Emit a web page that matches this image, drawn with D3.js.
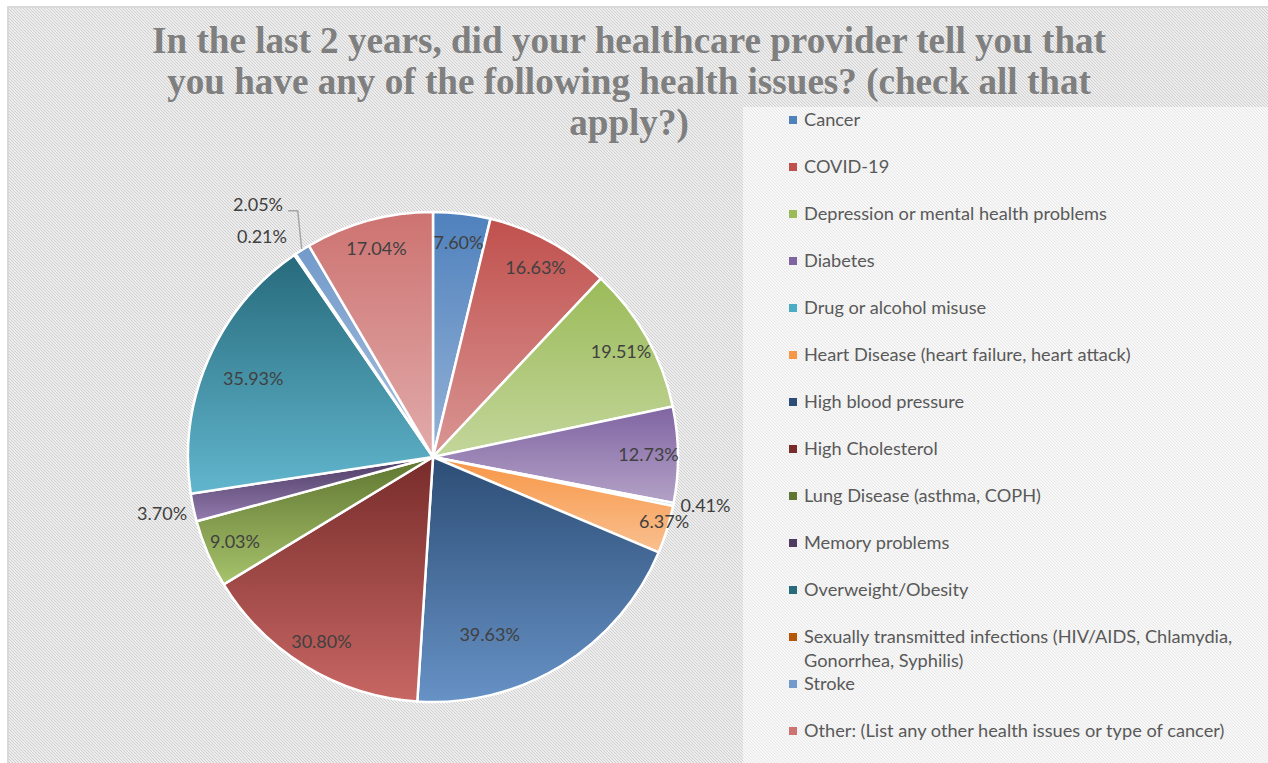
<!DOCTYPE html>
<html>
<head>
<meta charset="utf-8">
<script src="https://cdn.jsdelivr.net/npm/d3@7"></script>
<style>
  body { margin: 0; background: #fff; }
  svg { display: block; }
</style>
</head>
<body>
<script>
const categories = [
  "Cancer",
  "COVID-19",
  "Depression or mental health problems",
  "Diabetes",
  "Drug or alcohol misuse",
  "Heart Disease (heart failure, heart attack)",
  "High blood pressure",
  "High Cholesterol",
  "Lung Disease (asthma, COPH)",
  "Memory problems",
  "Overweight/Obesity",
  "Sexually transmitted infections (HIV/AIDS, Chlamydia, Gonorrhea, Syphilis)",
  "Stroke",
  "Other: (List any other health issues or type of cancer)"
];
const values = [7.60, 16.63, 19.51, 12.73, 0.41, 6.37, 39.63, 30.80, 9.03, 3.70, 35.93, 0.21, 2.05, 17.04];
const colors = ["#4F81BD", "#C0504D", "#9BBB59", "#8064A2", "#4BACC6", "#F79646",
  "#2C4D75", "#772C2A", "#5F7530", "#4D3B62", "#276A7C", "#B65708", "#729ACA", "#CD7371"];
const titleLines = [
  "In the last 2 years, did your healthcare provider tell you that",
  "you have any of the following health issues? (check all that",
  "apply?)"
];

const width = 1268, height = 763;
const svg = d3.select("body").append("svg").attr("width", width).attr("height", height);
const defs = svg.append("defs");

// diagonal hatch background
const hatch = defs.append("pattern").attr("id", "hatch")
  .attr("patternUnits", "userSpaceOnUse").attr("width", 3).attr("height", 3);
hatch.append("rect").attr("width", 3).attr("height", 3).attr("fill", "#fbfbfb");
hatch.append("path").attr("d", "M-1,-1L4,4M-1,2L1,4M2,-1L4,1")
  .attr("stroke", "#cdcdcd").attr("stroke-width", 1.1);

svg.append("rect").attr("x", 8).attr("y", 7).attr("width", 1300).attr("height", 800)
  .attr("fill", "url(#hatch)").attr("stroke", "#d9d9d9").attr("stroke-width", 2);

// legend panel
svg.append("rect").attr("x", 743).attr("y", 107).attr("width", 600).attr("height", 700)
  .attr("fill", "#fff").attr("fill-opacity", 0.55);

// pie
const cx = 433, cy = 457, R = 245;
const data = categories.map((c, i) => ({ name: c, value: values[i], color: colors[i] }));
const pie = d3.pie().sort(null).value(d => d.value);
const arcs = pie(data);
const arc = d3.arc().innerRadius(0).outerRadius(R);

arcs.forEach((a, i) => {
  const base = d3.hsl(a.data.color);
  const light = d3.hsl(base.h, base.s, base.l + (1 - base.l) * 0.4);
  const grad = defs.append("linearGradient").attr("id", "grad" + i)
    .attr("x1", 0).attr("y1", 0).attr("x2", 0).attr("y2", 1);
  grad.append("stop").attr("offset", "0%").attr("stop-color", base.formatHex());
  grad.append("stop").attr("offset", "100%").attr("stop-color", light.formatHex());
});

const g = svg.append("g").attr("transform", `translate(${cx},${cy})`);
g.selectAll("path.slice")
  .data(arcs)
  .join("path")
  .attr("class", "slice")
  .attr("d", arc)
  .attr("fill", (d, i) => `url(#grad${i})`)
  .attr("stroke", "#fff")
  .attr("stroke-width", 2.5);

// data labels (Excel best fit placement)
const labelLayout = {
  "Heart Disease (heart failure, heart attack)": { r: 0.98, da: -1.5 },
  "High blood pressure": { r: 0.76, da: 14 },
  "Overweight/Obesity": { r: 0.80 },
  "Drug or alcohol misuse": { r: 1.13, da: -1 },
  "Memory problems": { r: 1.13 },
  "Sexually transmitted infections (HIV/AIDS, Chlamydia, Gonorrhea, Syphilis)": { r: 1.14, da: -3.5 },
  "Stroke": { r: 1.253, da: -2.5, leader: true }
};
const fmt = d => d.toFixed(2) + "%";

arcs.forEach(a => {
  const lay = labelLayout[a.data.name] || { r: 0.88 };
  const mid = (a.startAngle + a.endAngle) / 2;
  const ang = mid + (lay.da || 0) * Math.PI / 180;
  const [x, y] = d3.pointRadial(ang, R * lay.r);
  const t = g.append("text")
    .attr("x", x).attr("y", y).attr("dy", "0.35em")
    .attr("text-anchor", "middle")
    .attr("font-family", "Lato, 'Open Sans', sans-serif")
    .attr("font-size", 18)
    .attr("fill", "#404040")
    .text(fmt(a.data.value));
  if (lay.leader) {
    const bb = t.node().getBBox();
    const [ex, ey] = d3.pointRadial(mid, R + 1);
    const ly = y + 6;
    g.append("polyline")
      .attr("points", [[bb.x + bb.width + 5, ly], [ex - 4, ly], [ex, ey]].map(p => p.join(",")).join(" "))
      .attr("fill", "none").attr("stroke", "#a6a6a6").attr("stroke-width", 1.5);
  }
});

// legend
const legend = svg.append("g").attr("transform", "translate(789,120)");
const item = legend.selectAll("g.item")
  .data(data)
  .join("g")
  .attr("class", "item")
  .attr("transform", (d, i) => `translate(0,${i * 47})`);
item.append("rect")
  .attr("x", 0).attr("y", -4).attr("width", 8).attr("height", 8)
  .attr("fill", d => d.color);
item.append("text")
  .attr("x", 15).attr("y", 0)
  .attr("font-family", "Lato, 'Open Sans', sans-serif")
  .attr("font-size", 18.2)
  .attr("fill", "#595959")
  .each(function(d) {
    const text = d3.select(this);
    const words = d.name.split(" ");
    let line = [];
    let tspan = text.append("tspan").attr("x", 15).attr("dy", "0.35em");
    words.forEach(w => {
      line.push(w);
      tspan.text(line.join(" "));
      if (tspan.node().getComputedTextLength() > 445 && line.length > 1) {
        line.pop();
        tspan.text(line.join(" "));
        line = [w];
        tspan = text.append("tspan").attr("x", 15).attr("dy", 24).text(w);
      }
    });
  });

// title
const title = svg.append("g")
  .attr("font-family", "'Liberation Serif', 'DejaVu Serif', serif")
  .attr("font-weight", "bold")
  .attr("fill", "#7f7f7f")
  .attr("text-anchor", "middle");
const tl = title.selectAll("text")
  .data(titleLines)
  .join("text")
  .attr("x", 629)
  .attr("y", (d, i) => 53 + i * 41)
  .attr("font-size", 34)
  .text(d => d);
const w0 = tl.node().getComputedTextLength();
tl.attr("font-size", 34 * 954 / w0);
</script>
</body>
</html>
